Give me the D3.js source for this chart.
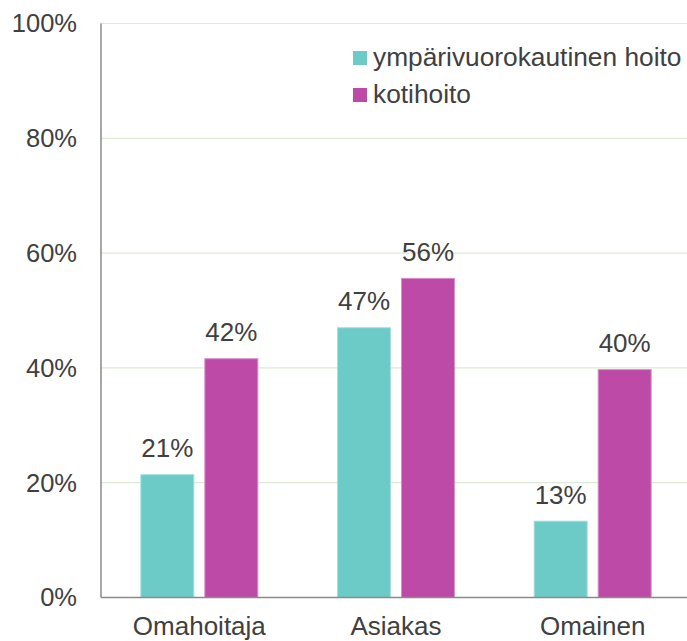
<!DOCTYPE html>
<html><head><meta charset="utf-8">
<script src="https://cdn.jsdelivr.net/npm/d3@7"></script>
<style>body{margin:0;background:#fff}svg{display:block}text{font-family:"Liberation Sans",Arial,sans-serif;fill:#404040}</style>
</head><body><svg id="c" width="687" height="641"></svg>
<script>
const categories = ["Omahoitaja", "Asiakas", "Omainen"];
const seriesNames = ["ympärivuorokautinen hoito", "kotihoito"];
const ymparivuorokautinen = [21.4, 47.0, 13.3];
const kotihoito = [41.6, 55.6, 39.7];
const labelsYmp = ["21%", "47%", "13%"];
const labelsKoti = ["42%", "56%", "40%"];
const yTicks = [0, 20, 40, 60, 80, 100];
const colors = ["#6ccac7", "#bc4aa6"];
const strokes = ["#a6e0dd", "#d98fca"];

const svg = d3.select("#c");
const L = 101, R = 691, T = 23.5, B = 597.5;
const FS = 26;
const x = d3.scaleBand().domain(categories).range([L, R]);
const y = d3.scaleLinear().domain([0, 100]).range([B, T]);

// gridlines
svg.append("g").selectAll("line").data(yTicks.filter(d => d > 0)).join("line")
  .attr("x1", L).attr("x2", R).attr("y1", d => y(d)).attr("y2", d => y(d))
  .attr("stroke", "#dcebd6").attr("stroke-width", 1.2);

// y tick labels
svg.append("g").selectAll("text").data(yTicks).join("text")
  .attr("x", 77).attr("y", d => y(d)).attr("dy", "0.35em")
  .attr("text-anchor", "end").attr("font-size", 25.5).text(d => d + "%");

const bw = 53, gap = 11;
const series = [ymparivuorokautinen, kotihoito];
const labels = [labelsYmp, labelsKoti];
series.forEach((vals, si) => {
  const off = si === 0 ? -(gap / 2 + bw) : gap / 2;
  const g = svg.append("g");
  g.selectAll("rect").data(vals).join("rect")
    .attr("x", (d, i) => x(categories[i]) + x.bandwidth() / 2 + off)
    .attr("width", bw)
    .attr("y", d => y(d)).attr("height", d => B - y(d))
    .attr("fill", colors[si]).attr("stroke", strokes[si]).attr("stroke-width", 1);
  g.selectAll("text").data(vals).join("text")
    .attr("x", (d, i) => x(categories[i]) + x.bandwidth() / 2 + off + bw / 2)
    .attr("y", d => y(d) - 17.5).attr("text-anchor", "middle").attr("font-size", FS)
    .text((d, i) => labels[si][i]);
});

// axes lines
svg.append("line").attr("x1", L).attr("x2", L).attr("y1", T).attr("y2", B)
  .attr("stroke", "#8a8a8a").attr("stroke-width", 1.5);
svg.append("line").attr("x1", L).attr("x2", R).attr("y1", B).attr("y2", B)
  .attr("stroke", "#8a8a8a").attr("stroke-width", 1.5);

// x labels
svg.append("g").selectAll("text").data(categories).join("text")
  .attr("x", d => x(d) + x.bandwidth() / 2).attr("y", 635)
  .attr("text-anchor", "middle").attr("font-size", FS).text(d => d);

// legend
const lg = svg.append("g");
seriesNames.forEach((n, i) => {
  lg.append("rect").attr("x", 353).attr("y", 51 + i * 37).attr("width", 14).attr("height", 14)
    .attr("fill", colors[i]);
  lg.append("text").attr("x", 373).attr("y", 66 + i * 36.7).attr("font-size", 26.3).text(n);
});
</script></body></html>
